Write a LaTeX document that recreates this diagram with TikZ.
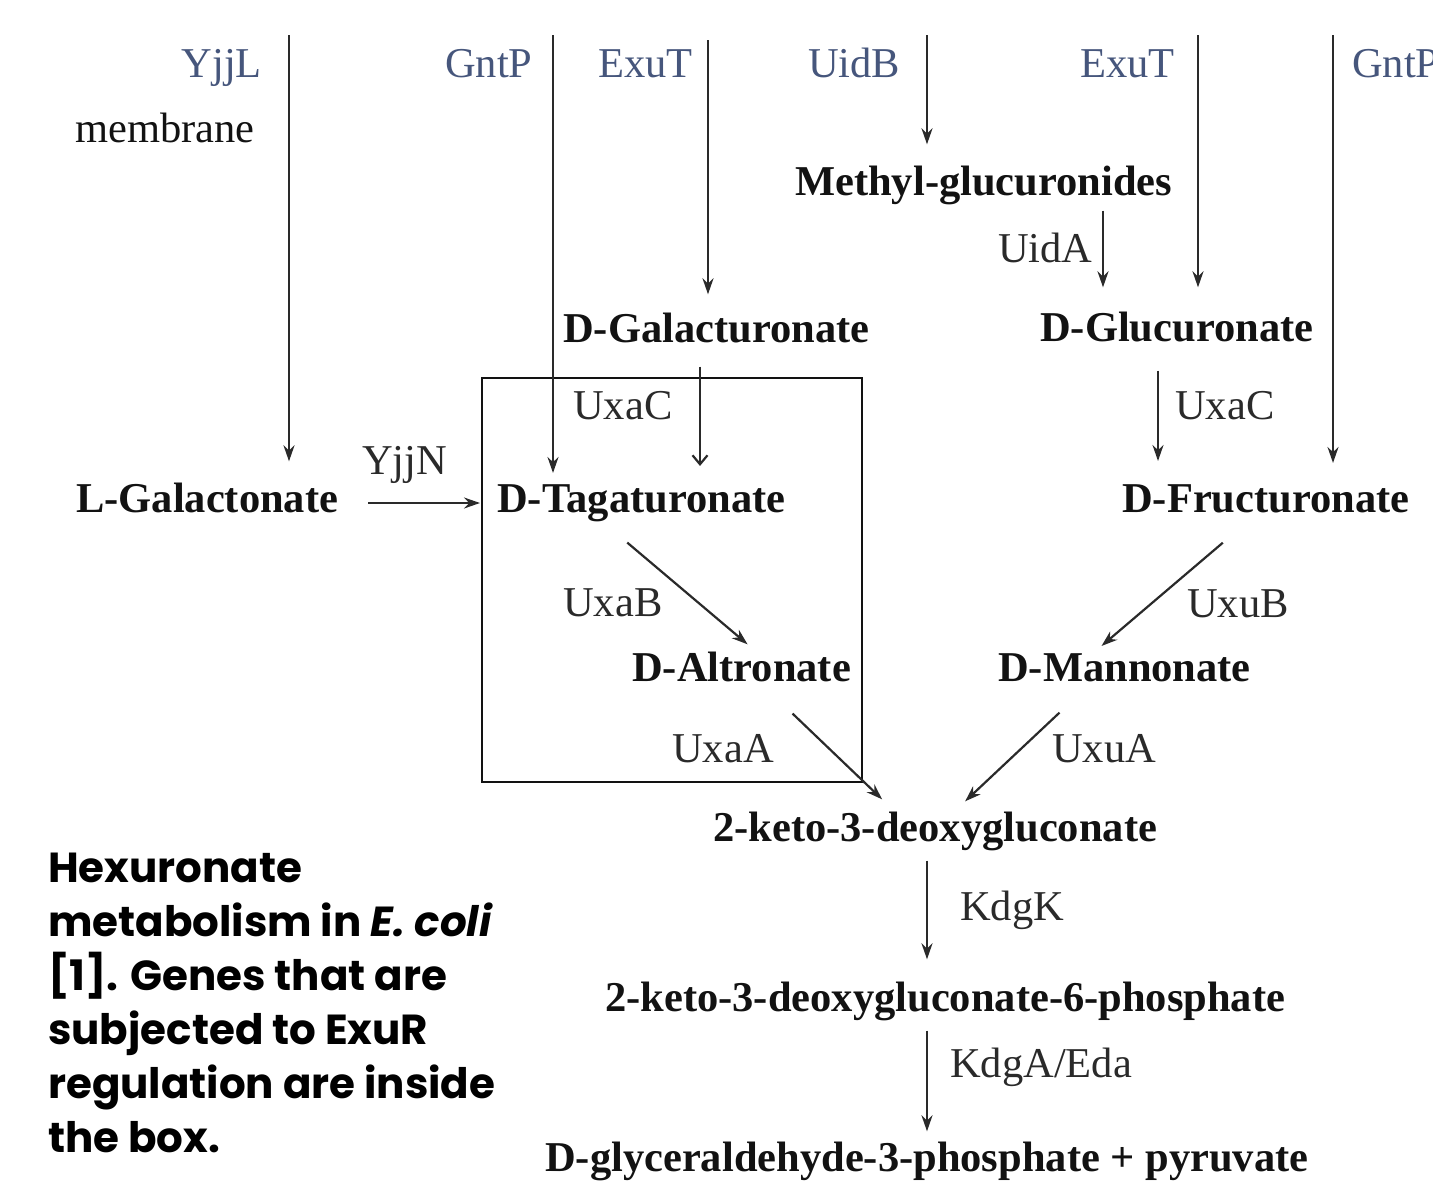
\documentclass[tikz,border=0pt]{standalone}
\usepackage{fontspec}
\setmainfont{Liberation Serif}
\newfontfamily\captionfont{Poppins}
\usetikzlibrary{arrows.meta}

\definecolor{porterblue}{RGB}{70,86,124}
\definecolor{enzymegrey}{RGB}{42,42,42}
\definecolor{ink}{RGB}{18,18,18}

\begin{document}
\begin{tikzpicture}[x=1pt,y=-1pt,
		met/.style={font=\fontsize{42.5}{48}\selectfont\bfseries, text=ink, inner sep=0pt, anchor=base west},
		gene/.style={font=\fontsize{42.5}{48}\selectfont, text=enzymegrey, inner sep=0pt, anchor=base west},
		porter/.style={gene, text=porterblue},
		flow/.style={-{Stealth[length=16pt,width=11pt]}, line width=2.2pt, draw=enzymegrey},
	]
		\useasboundingbox (0,0) rectangle (1433,1200);

		% transporters above the membrane
		\node[porter, anchor=base east] (yjjl) at (262,77) {YjjL};
		\node[gene, text=ink] (membrane) at (75,142) {membrane};
		\node[porter] (gntpA) at (445,77) {GntP};
		\node[porter] (exutA) at (598,77) {ExuT};
		\node[porter] (uidb) at (808,77) {UidB};
		\node[porter] (exutB) at (1080,77) {ExuT};
		\node[porter] (gntpB) at (1352,77) {GntP};

		\coordinate (inYjjL) at (289,35);
		\coordinate (inGntPA) at (553,35);
		\coordinate (inExuTA) at (708,40);
		\coordinate (inUidB) at (927,35);
		\coordinate (inExuTB) at (1198,35);
		\coordinate (inGntPB) at (1333,35);

		% metabolites
		\node[met] (methyl) at (795,195) {Methyl-glucuronides};
		\node[met] (galac) at (563,342) {D-Galacturonate};
		\node[met] (gluc) at (1040,341) {D-Glucuronate};
		\node[met] (lgal) at (76,512) {L-Galactonate};
		\node[met] (tag) at (497,512) {D-Tagaturonate};
		\node[met] (fruc) at (1122,512) {D-Fructuronate};
		\node[met] (alt) at (632,681) {D-Altronate};
		\node[met] (man) at (998,681) {D-Mannonate};
		\node[met] (kdg) at (713,841) {2-keto-3-deoxygluconate};
		\node[met] (kdgp) at (605,1011) {2-keto-3-deoxygluconate-6-phosphate};
		\node[met] (pyr) at (545,1171) {D-glyceraldehyde-3-phosphate + pyruvate};

		% enzymes
		\node[gene] (uida) at (998,262) {UidA};
		\node[gene] (uxacA) at (573,419) {UxaC};
		\node[gene] (uxacB) at (1175,419) {UxaC};
		\node[gene] (yjjn) at (362,474) {YjjN};
		\node[gene] (uxab) at (563,616) {UxaB};
		\node[gene] (uxaa) at (672,762) {UxaA};
		\node[gene] (uxub) at (1187,617) {UxuB};
		\node[gene] (uxua) at (1052,762) {UxuA};
		\node[gene] (kdgk) at (960,920) {KdgK};
		\node[gene] (kdga) at (950,1077) {KdgA/Eda};

		% ExuR box
		\draw[line width=2.2pt, draw=ink] (482,378) rectangle (862,782);

		% uptake
		\draw[flow, shorten >=21pt] (inYjjL) -- (lgal.north -| inYjjL);
		\draw[flow, shorten >=11pt] (inGntPA) -- (tag.north -| inGntPA);
		\draw[flow, shorten >=18pt] (inExuTA) -- (galac.north -| inExuTA);
		\draw[flow, shorten >=21pt] (inUidB) -- (methyl.north -| inUidB);
		\draw[flow, shorten >=24pt] (inExuTB) -- (gluc.north -| inExuTB);
		\draw[flow, shorten >=21pt] (inGntPB) -- (fruc.north -| inGntPB);

		% pathway
		\coordinate (uidaAxis) at (1103,0);
		\coordinate (galAxis) at (700,0);
		\coordinate (glucAxis) at (1158,0);
		\draw[flow, shorten <=6pt, shorten >=24pt] (methyl.south -| uidaAxis) -- (gluc.north -| uidaAxis);
		\draw[flow, -{Straight Barb[length=9pt,width=15pt]}, shorten <=24pt, shorten >=18pt] (galac.south -| galAxis) -- (tag.north -| galAxis);
		\draw[flow, shorten <=30pt, shorten >=17pt] ([yshift=9pt]lgal.base east) -- ([yshift=9pt]tag.base west);
		\draw[flow, shorten <=29pt, shorten >=23pt] (gluc.south -| glucAxis) -- (fruc.north -| glucAxis);
		\draw[flow] ([xshift=-14pt,yshift=-21pt]tag.south) -- ([xshift=6pt,yshift=7pt]alt.north);
		\draw[flow] ([xshift=51pt,yshift=-32pt]alt.south) -- ([xshift=-53pt,yshift=12pt]kdg.north);
		\draw[flow] ([xshift=-43pt,yshift=-30pt]fruc.south) -- ([xshift=-23pt,yshift=7pt]man.north);
		\draw[flow] ([xshift=-65pt,yshift=-31pt]man.south) -- ([xshift=30pt,yshift=10pt]kdg.north);
		\draw[flow, shorten <=10pt, shorten >=22pt] (kdg.south -| inUidB) -- (kdgp.north -| inUidB);
		\draw[flow, shorten <=10pt, shorten >=10pt] (kdgp.south -| inUidB) -- (pyr.north -| inUidB);

		% caption
		\node[anchor=north west, inner sep=0pt, align=left, text=black,
			font=\captionfont\bfseries\fontsize{42}{54}\selectfont] (caption) at (48,853)
			{Hexuronate\\metabolism in \textit{E. coli}\\{[1]}. Genes that are\\subjected to ExuR\\regulation are inside\\the box.};
	\end{tikzpicture}
\end{document}
